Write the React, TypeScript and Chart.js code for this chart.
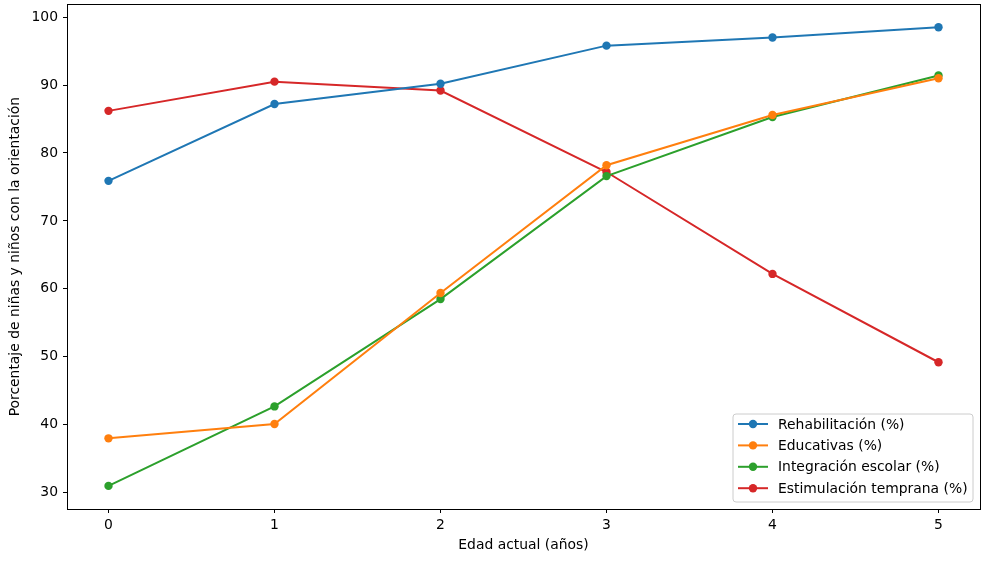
import React, { useEffect, useRef } from "react";
import { Chart, registerables } from "chart.js";

Chart.register(...registerables);

const ages = [0, 1, 2, 3, 4, 5];
const rehabilitacion = [75.9, 87.2, 90.2, 95.8, 97.0, 98.5];
const educativas = [38.0, 40.1, 59.4, 78.2, 85.6, 91.0];
const integracion = [31.0, 42.7, 58.5, 76.6, 85.3, 91.4];
const estimulacion = [86.2, 90.5, 89.2, 77.2, 62.2, 49.2];
const seriesNames = [
  "Rehabilitación (%)",
  "Educativas (%)",
  "Integración escolar (%)",
  "Estimulación temprana (%)",
];
const seriesColors = ["#1f77b4", "#ff7f0e", "#2ca02c", "#d62728"];
const yTicks = [30, 40, 50, 60, 70, 80, 90, 100];
const xTicks = [0, 1, 2, 3, 4, 5];

const FONT = "'DejaVu Sans', sans-serif";
const FS = 13.9;

const framePlugin = {
  id: "frame",
  afterDraw(chart: any) {
    const { ctx, chartArea: a } = chart;
    ctx.save();
    ctx.strokeStyle = "#000";
    ctx.lineWidth = 1;
    ctx.strokeRect(Math.round(a.left) + 0.5, Math.round(a.top) + 0.5, Math.round(a.right - a.left), Math.round(a.bottom - a.top));
    // legend
    const bx = 733, by = 414, bw = 240, bh = 88;
    ctx.fillStyle = "rgba(255,255,255,0.8)";
    ctx.strokeStyle = "#cccccc";
    ctx.beginPath();
    const r = 3;
    ctx.moveTo(bx + r, by);
    ctx.arcTo(bx + bw, by, bx + bw, by + bh, r);
    ctx.arcTo(bx + bw, by + bh, bx, by + bh, r);
    ctx.arcTo(bx, by + bh, bx, by, r);
    ctx.arcTo(bx, by, bx + bw, by, r);
    ctx.closePath();
    ctx.fill();
    ctx.stroke();
    ctx.font = `${FS}px ${FONT}`;
    ctx.textBaseline = "middle";
    ctx.textAlign = "left";
    seriesNames.forEach((name, i) => {
      const y = 424 + i * 21.4;
      ctx.strokeStyle = seriesColors[i];
      ctx.lineWidth = 2;
      ctx.beginPath();
      ctx.moveTo(738, y);
      ctx.lineTo(768, y);
      ctx.stroke();
      ctx.fillStyle = seriesColors[i];
      ctx.beginPath();
      ctx.arc(753, y, 4.2, 0, Math.PI * 2);
      ctx.fill();
      ctx.fillStyle = "#000";
      ctx.fillText(name, 778, y + 1);
    });
    ctx.restore();
  },
};

export default function App() {
  const ref = useRef<HTMLCanvasElement>(null);
  useEffect(() => {
    document.body.style.margin = "0";
    const seriesData = [rehabilitacion, educativas, integracion, estimulacion];
    const chart = new Chart(ref.current!, {
      type: "line",
      data: {
        datasets: seriesNames.map((name, i) => ({
          label: name,
          data: ages.map((a, j) => ({ x: a, y: seriesData[i][j] })),
          borderColor: seriesColors[i],
          backgroundColor: seriesColors[i],
          borderWidth: 2,
          pointRadius: 4.2,
          pointBorderWidth: 0,
          pointBackgroundColor: seriesColors[i],
          tension: 0,
          fill: false,
        })),
      },
      options: {
        animation: false,
        responsive: false,
        maintainAspectRatio: false,
        layout: { padding: { top: 4, right: 9, left: 0, bottom: 0 } },
        plugins: { legend: { display: false }, tooltip: { enabled: false } },
        scales: {
          x: {
            type: "linear",
            min: -0.25,
            max: 5.25,
            afterBuildTicks: (s: any) => {
              s.ticks = xTicks.map((v) => ({ value: v }));
            },
            afterFit: (s: any) => {
              s.height = 53;
              s.paddingLeft = 0;
              s.paddingRight = 0;
            },
            grid: { drawOnChartArea: false, drawTicks: true, tickLength: 4, color: "#000" },
            border: { display: false },
            ticks: { color: "#000", font: { family: FONT, size: FS }, padding: 4, maxRotation: 0 },
            title: {
              display: true,
              text: "Edad actual (años)",
              color: "#000",
              font: { family: FONT, size: FS },
              padding: { top: 0, bottom: 8.5 },
            },
          },
          y: {
            type: "linear",
            min: 27.6,
            max: 101.9,
            afterBuildTicks: (s: any) => {
              s.ticks = yTicks.map((v) => ({ value: v }));
            },
            afterFit: (s: any) => {
              s.width = 67;
              s.paddingTop = 0;
              s.paddingBottom = 0;
            },
            grid: { drawOnChartArea: false, drawTicks: true, tickLength: 4, color: "#000" },
            border: { display: false },
            ticks: { color: "#000", font: { family: FONT, size: FS }, padding: 5 },
            title: {
              display: true,
              text: "Porcentaje de niñas y niños con la orientación",
              color: "#000",
              font: { family: FONT, size: FS },
              padding: { top: 7, bottom: 0 },
            },
          },
        },
      },
      plugins: [framePlugin],
    } as any);
    return () => chart.destroy();
  }, []);
  return <canvas ref={ref} width={989} height={562} style={{ display: "block" }} />;
}
